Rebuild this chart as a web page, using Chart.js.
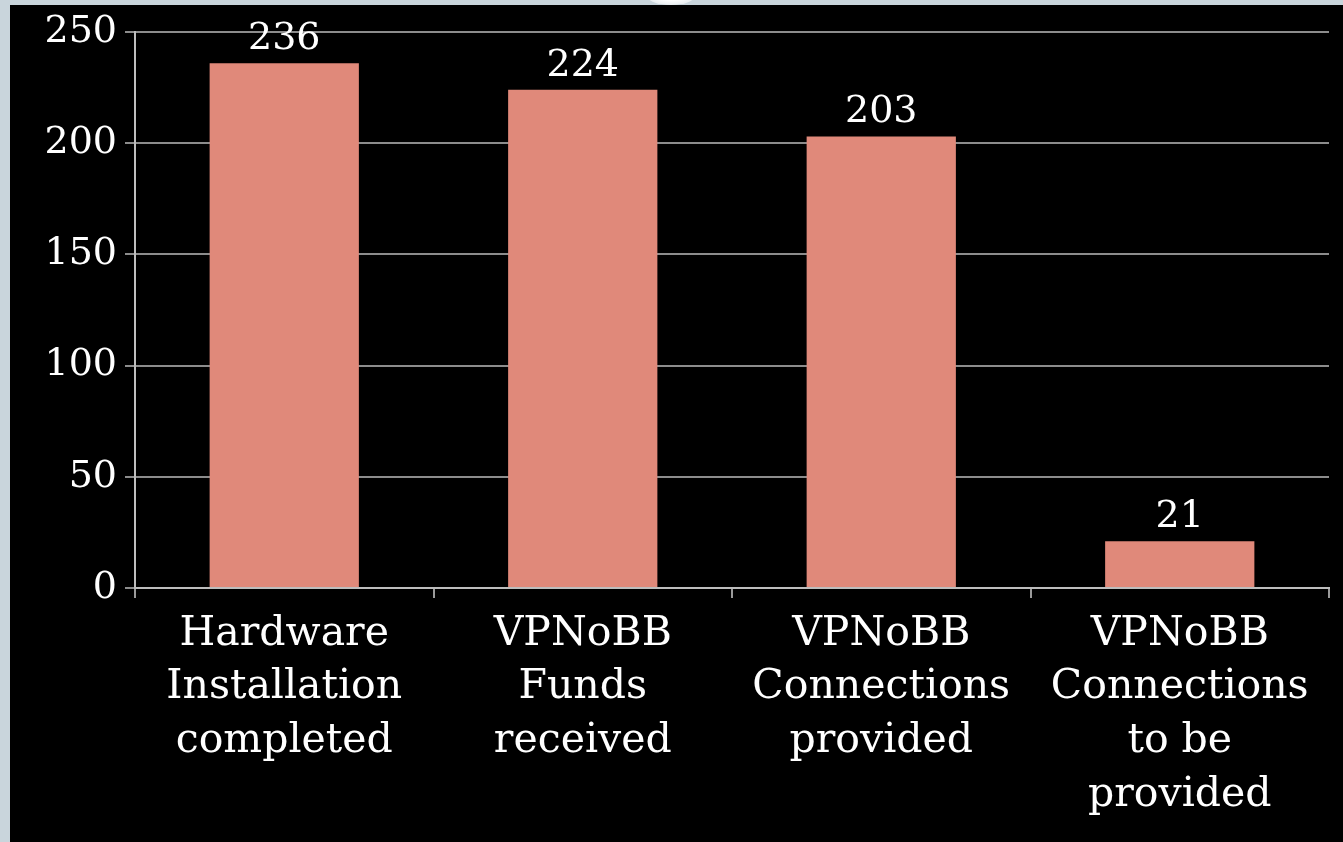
<!DOCTYPE html>
<html>
<head>
<meta charset="utf-8">
<script src="https://cdn.jsdelivr.net/npm/chart.js@4"></script>
<style>
    html, body { margin: 0; padding: 0; background: #c9d5dc; overflow: hidden; }
    #frame { position: absolute; left: 10px; top: 5px; width: 1333px; height: 837px; background: #000; }
    #knob { position: absolute; left: 645px; top: -18px; width: 52px; height: 23px; border-radius: 50%;
        background: radial-gradient(ellipse at center, #ffffff 40%, #e6ecef 75%, #c9d5dc 100%); }
</style>
</head>
<body>
<div id="knob"></div>
<div id="frame"><canvas id="chart" width="1333" height="837"></canvas></div>
<script>
document.addEventListener('DOMContentLoaded', function () {
    const categories = [
        ['Hardware', 'Installation', 'completed'],
        ['VPNoBB', 'Funds', 'received'],
        ['VPNoBB', 'Connections', 'provided'],
        ['VPNoBB', 'Connections', 'to be', 'provided']
    ];
    const counts = [236, 224, 203, 21];
    const yTicks = [0, 50, 100, 150, 200, 250];

    const serif = '"DejaVu Serif", "Liberation Serif", serif';

    // draws the number above each bar
    const valueLabels = {
        id: 'valueLabels',
        afterDatasetsDraw(chart) {
            const ctx = chart.ctx;
            const meta = chart.getDatasetMeta(0);
            ctx.save();
            ctx.fillStyle = '#ffffff';
            ctx.font = '38px ' + serif;
            ctx.textAlign = 'center';
            ctx.textBaseline = 'middle';
            meta.data.forEach((bar, i) => {
                ctx.fillText(String(counts[i]), bar.x, bar.y - 24);
            });
            ctx.restore();
        }
    };

    const ctx = document.getElementById('chart').getContext('2d');
    new Chart(ctx, {
        type: 'bar',
        data: {
            labels: categories,
            datasets: [{
                data: counts,
                backgroundColor: '#e0897a',
                borderWidth: 0,
                barPercentage: 0.5,
                categoryPercentage: 1.0
            }]
        },
        options: {
            responsive: false,
            animation: false,
            layout: { padding: { left: 0, top: 27, right: 14, bottom: 0 } },
            plugins: {
                legend: { display: false },
                tooltip: { enabled: false }
            },
            scales: {
                x: {
                    offset: true,
                    grid: {
                        offset: true,
                        drawOnChartArea: false,
                        color: '#9a9a9a',
                        lineWidth: 2,
                        tickLength: 10
                    },
                    border: { color: '#bdbdbd', width: 2 },
                    ticks: {
                        color: '#ffffff',
                        font: { family: serif, size: 41, lineHeight: 1.31 },
                        padding: 9,
                        maxRotation: 0,
                        autoSkip: false
                    },
                    afterFit(scale) { scale.height = 254; }
                },
                y: {
                    min: 0,
                    max: 250,
                    afterBuildTicks(scale) { scale.ticks = yTicks.map(v => ({ value: v })); },
                    grid: {
                        color: '#8c8c8c',
                        lineWidth: 2,
                        tickLength: 10
                    },
                    border: { color: '#bdbdbd', width: 2 },
                    ticks: {
                        color: '#ffffff',
                        font: { family: serif, size: 38 },
                        padding: 8
                    },
                    afterFit(scale) {
                        scale.width = 125;
                        scale.paddingTop = 0;
                        scale.paddingBottom = 0;
                    }
                }
            }
        },
        plugins: [valueLabels]
    });
});
</script>
</body>
</html>
